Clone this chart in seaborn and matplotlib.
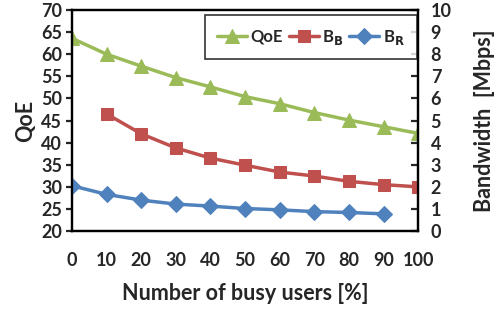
import pandas as pd
import matplotlib.pyplot as plt
import seaborn as sns

# valores
busy = [0, 10, 20, 30, 40, 50, 60, 70, 80, 90, 100]
qoe = [63.6, 60.0, 57.3, 54.7, 52.6, 50.4, 48.8, 46.8, 45.1, 43.6, 42.1]
busy_b = [10, 20, 30, 40, 50, 60, 70, 80, 90, 100]
bw_busy = [5.3, 4.4, 3.76, 3.3, 2.98, 2.67, 2.49, 2.25, 2.1, 2.0]
busy_r = [0, 10, 20, 30, 40, 50, 60, 70, 80, 90]
bw_regular = [2.05, 1.66, 1.4, 1.22, 1.13, 1.02, 0.96, 0.88, 0.84, 0.78]

df_q = pd.DataFrame({'busy': busy, 'val': qoe})
df_b = pd.DataFrame({'busy': busy_b, 'val': bw_busy})
df_r = pd.DataFrame({'busy': busy_r, 'val': bw_regular})

sns.set_theme(style="white")
plt.rcParams['font.family'] = ['Lato', 'DejaVu Sans']
plt.rcParams['font.weight'] = 'bold'
plt.rcParams['mathtext.default'] = 'bf'

verde, vermelho, azul = '#9BBB59', '#C0504D', '#4F81BD'
peso = 'bold'

fig = plt.figure(figsize=(4.96, 3.11), dpi=100)
ax = fig.add_axes([0.145, 0.257, 0.698, 0.711])
ax2 = ax.twinx()

sns.lineplot(data=df_q, x='busy', y='val', ax=ax, color=verde, lw=2.5,
             marker='^', markersize=10, markeredgecolor=verde, label='QoE', legend=False)
sns.lineplot(data=df_b, x='busy', y='val', ax=ax2, color=vermelho, lw=2.5,
             marker='s', markersize=8, markeredgecolor=vermelho, label='B$_B$', legend=False)
sns.lineplot(data=df_r, x='busy', y='val', ax=ax2, color=azul, lw=2.5,
             marker='D', markersize=8, markeredgecolor=azul, label='B$_R$', legend=False)

ax.set_xlim(0, 100)
ax.set_ylim(20, 70)
ax2.set_ylim(0, 10)
ax.set_xticks(range(0, 101, 10))
ax.set_yticks(range(20, 71, 5))
ax2.set_yticks(range(0, 11, 1))
ax.set_xlabel('Number of busy users [%]', fontsize=15.5, fontweight=peso, labelpad=10)
ax.set_ylabel('QoE', fontsize=15.5, fontweight=peso, labelpad=4)
ax2.set_ylabel('Bandwidth  [Mbps]', fontsize=15.5, fontweight=peso, labelpad=16)

for a in (ax, ax2):
    for s in a.spines.values():
        s.set_color('black')
        s.set_linewidth(1.6)
ax.tick_params(axis='y', direction='out', length=4, width=1.6, labelsize=13, pad=3)
ax.tick_params(axis='x', direction='in', length=5, width=1.6, labelsize=13, pad=15)
ax2.tick_params(axis='y', direction='in', length=5, width=1.6, labelsize=13, pad=9)
for lab in ax.get_xticklabels() + ax.get_yticklabels() + ax2.get_yticklabels():
    lab.set_fontweight(peso)

h1, l1 = ax.get_legend_handles_labels()
h2, l2 = ax2.get_legend_handles_labels()
leg = ax2.legend(h1 + h2, l1 + l2, ncol=3, loc='upper right', bbox_to_anchor=(0.997, 0.977),
                 borderaxespad=0, fontsize=12, frameon=True, fancybox=False, edgecolor='black',
                 handlelength=1.8, columnspacing=0.35, handletextpad=0.2, borderpad=0.75)
leg.get_frame().set_linewidth(1.2)
for t in leg.get_texts():
    t.set_fontweight(peso)

fig.savefig('out.png', dpi=100)
